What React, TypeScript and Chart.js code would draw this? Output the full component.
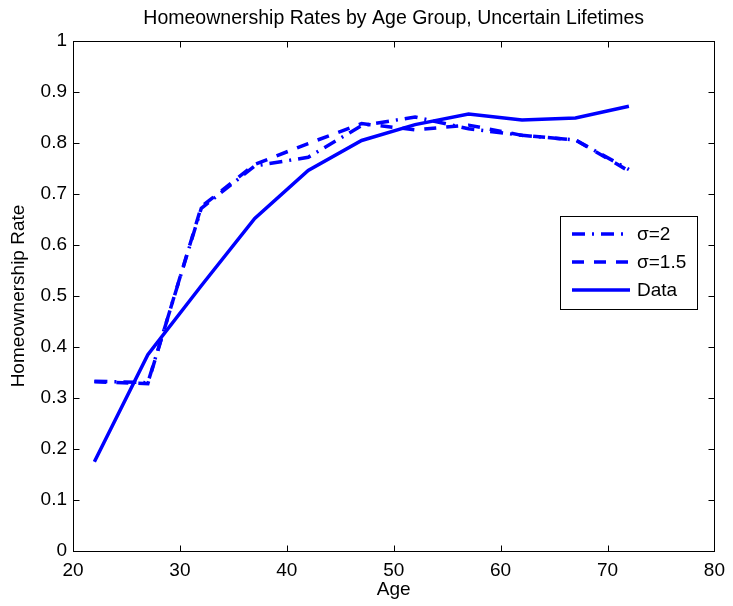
import React, { useEffect, useRef } from "react";
import { Chart, registerables } from "chart.js";

Chart.register(...registerables);

const ages = [22, 27, 32, 37, 42, 47, 52, 57, 62, 67, 72];
const sigma2 = [0.333, 0.33, 0.672, 0.755, 0.772, 0.834, 0.851, 0.828, 0.815, 0.806, 0.748];
const sigma15 = [0.332, 0.328, 0.675, 0.758, 0.799, 0.838, 0.826, 0.835, 0.815, 0.806, 0.745];
const dataRates = [0.175, 0.385, 0.52, 0.652, 0.746, 0.805, 0.836, 0.857, 0.845, 0.849, 0.872];
const seriesLabels = ["\u03c3=2", "\u03c3=1.5", "Data"];
const xTicks = [20, 30, 40, 50, 60, 70, 80];
const yTicks = [0, 0.1, 0.2, 0.3, 0.4, 0.5, 0.6, 0.7, 0.8, 0.9, 1];

const TITLE = "Homeownership Rates by Age Group, Uncertain Lifetimes";
const XLABEL = "Age";
const YLABEL = "Homeownership Rate";
const FONT = '"Liberation Sans", Arial, Helvetica, sans-serif';
const BLUE = "#0000ff";
const DASHES = [[13, 7, 2, 7], [12, 10], []];
const FS = 19;

const decorPlugin = {
  id: "decor",
  afterDraw(chart: any) {
    const ctx = chart.ctx;
    const ca = chart.chartArea;
    const xs = chart.scales.x;
    const ys = chart.scales.y;
    ctx.save();
    ctx.strokeStyle = "#000";
    ctx.lineWidth = 1;
    ctx.setLineDash([]);
    const L = Math.round(ca.left) + 0.5;
    const R = Math.round(ca.right) + 0.5;
    const T = Math.round(ca.top) + 0.5;
    const B = Math.round(ca.bottom) + 0.5;
    ctx.strokeRect(L, T, R - L, B - T);
    const tl = 6;
    ctx.beginPath();
    xTicks.forEach((v) => {
      const px = Math.round(xs.getPixelForValue(v)) + 0.5;
      ctx.moveTo(px, B);
      ctx.lineTo(px, B - tl);
      ctx.moveTo(px, T);
      ctx.lineTo(px, T + tl);
    });
    yTicks.forEach((v) => {
      const py = Math.round(ys.getPixelForValue(v)) + 0.5;
      ctx.moveTo(L, py);
      ctx.lineTo(L + tl, py);
      ctx.moveTo(R, py);
      ctx.lineTo(R - tl, py);
    });
    ctx.stroke();

    ctx.fillStyle = "#000";
    ctx.textAlign = "center";
    ctx.textBaseline = "middle";
    const cx = (ca.left + ca.right) / 2;
    ctx.font = `19.5px ${FONT}`;
    ctx.fillText(TITLE, cx, 19);
    ctx.font = `${FS}px ${FONT}`;
    ctx.fillText(XLABEL, cx, 590);
    ctx.save();
    ctx.translate(19, (ca.top + ca.bottom) / 2);
    ctx.rotate(-Math.PI / 2);
    ctx.fillText(YLABEL, 0, 0);
    ctx.restore();

    const lx = 560.5, ly = 216.5, lw = 137, lh = 93;
    ctx.fillStyle = "#fff";
    ctx.fillRect(lx, ly, lw, lh);
    ctx.strokeStyle = "#000";
    ctx.lineWidth = 1;
    ctx.strokeRect(lx, ly, lw, lh);
    const rows = [234, 262, 290];
    chart.data.datasets.forEach((ds: any, i: number) => {
      ctx.strokeStyle = ds.borderColor;
      ctx.lineWidth = ds.borderWidth;
      ctx.lineCap = "butt";
      ctx.setLineDash(ds.borderDash || []);
      ctx.beginPath();
      ctx.moveTo(572, rows[i]);
      ctx.lineTo(630, rows[i]);
      ctx.stroke();
      ctx.setLineDash([]);
      ctx.fillStyle = "#000";
      ctx.textAlign = "left";
      ctx.textBaseline = "middle";
      ctx.fillText(ds.label, 637, rows[i] + 1);
    });
    ctx.restore();
  },
};

export default function App() {
  const ref = useRef<HTMLCanvasElement | null>(null);
  useEffect(() => {
    document.body.style.margin = "0";
    const canvas = ref.current;
    if (!canvas) return;
    const series = [sigma2, sigma15, dataRates];
    const chart = new Chart(canvas, {
      type: "line",
      data: {
        datasets: series.map((vals, i) => ({
          label: seriesLabels[i],
          data: ages.map((a, j) => ({ x: a, y: vals[j] })),
          borderColor: BLUE,
          backgroundColor: BLUE,
          borderWidth: 3.5,
          borderDash: DASHES[i],
          borderCapStyle: "butt",
          borderJoinStyle: "miter",
          pointRadius: 0,
          fill: false,
          tension: 0,
        })),
      },
      options: {
        responsive: false,
        devicePixelRatio: 1,
        animation: false,
        layout: { padding: { top: 41, right: 14, bottom: 0, left: 0 } },
        plugins: {
          legend: { display: false },
          title: { display: false },
          tooltip: { enabled: false },
        },
        scales: {
          x: {
            type: "linear",
            min: 20,
            max: 80,
            grid: { display: false, drawTicks: false },
            border: { display: false },
            ticks: {
              stepSize: 10,
              padding: 8,
              color: "#000",
              font: { family: FONT, size: FS },
              maxRotation: 0,
            },
            afterFit: (s: any) => {
              s.height = 55;
            },
          },
          y: {
            type: "linear",
            min: 0,
            max: 1,
            grid: { display: false, drawTicks: false },
            border: { display: false },
            ticks: {
              stepSize: 0.1,
              padding: 6,
              color: "#000",
              font: { family: FONT, size: FS },
              callback: (v: any) => String(Number(Number(v).toFixed(1))),
            },
            afterFit: (s: any) => {
              s.width = 73;
            },
          },
        },
      } as any,
      plugins: [decorPlugin],
    });
    return () => chart.destroy();
  }, []);
  return (
    <div style={{ position: "absolute", left: 0, top: 0, width: 733, height: 606 }}>
      <canvas ref={ref} width={733} height={606} style={{ display: "block" }} />
    </div>
  );
}
